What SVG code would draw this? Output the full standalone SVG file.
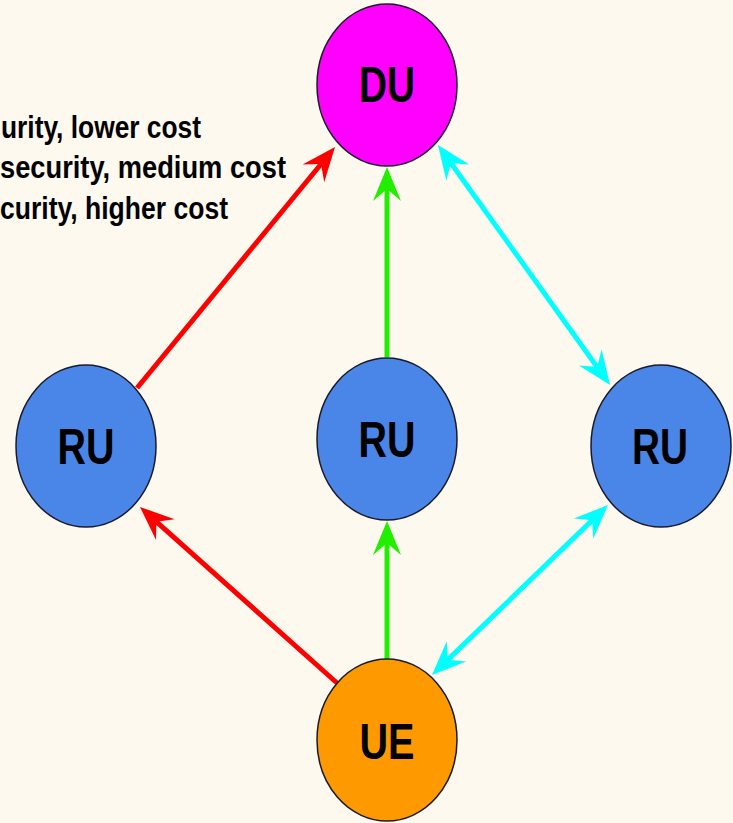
<svg xmlns="http://www.w3.org/2000/svg" width="733" height="823" viewBox="0 0 733 823">
<style>
.bg{fill:#fdf9ef}
.node{stroke:#1a1a2a;stroke-width:1.5}
.lbl{font-family:"Liberation Sans",Arial,sans-serif;font-weight:bold;font-size:50px;fill:#000;text-anchor:middle}
.leg{font-family:"Liberation Sans",Arial,sans-serif;font-weight:bold;font-size:31px;fill:#000}
.c{stroke-width:5;fill:none}
</style>
<defs>
<marker id="ar" markerUnits="userSpaceOnUse" orient="auto-start-reverse" refX="-20" refY="0" markerWidth="40" markerHeight="40" overflow="visible"><path d="M0,0 L-34,-14 L-22,0 L-34,14 Z" fill="#ff0000"/></marker>
<marker id="ag" markerUnits="userSpaceOnUse" orient="auto-start-reverse" refX="-20" refY="0" markerWidth="40" markerHeight="40" overflow="visible"><path d="M0,0 L-34,-14 L-22,0 L-34,14 Z" fill="#22ee00"/></marker>
<marker id="ac" markerUnits="userSpaceOnUse" orient="auto-start-reverse" refX="-20" refY="0" markerWidth="40" markerHeight="40" overflow="visible"><path d="M0,0 L-34,-14 L-22,0 L-34,14 Z" fill="#00ffff"/></marker>
</defs>
<rect class="bg" x="0" y="0" width="733" height="823"/>
<g id="legend">
<text class="leg" x="1" y="138" textLength="200" lengthAdjust="spacingAndGlyphs">urity, lower cost</text>
<text class="leg" x="0" y="178" textLength="286" lengthAdjust="spacingAndGlyphs">security, medium cost</text>
<text class="leg" x="0" y="219" textLength="228" lengthAdjust="spacingAndGlyphs">curity, higher cost</text>
</g>
<g id="connectors">
<line class="c" stroke="#ff0000" x1="137" y1="388" x2="322.3" y2="162.5" marker-end="url(#ar)"/>
<line class="c" stroke="#ff0000" x1="337" y1="683" x2="154.9" y2="520.3" marker-end="url(#ar)"/>
<line class="c" stroke="#22ee00" x1="387" y1="357" x2="387" y2="187" marker-end="url(#ag)"/>
<line class="c" stroke="#22ee00" x1="387" y1="659" x2="387" y2="541" marker-end="url(#ag)"/>
<line class="c" stroke="#00ffff" x1="449.6" y1="161.3" x2="598.4" y2="368.7" marker-start="url(#ac)" marker-end="url(#ac)"/>
<line class="c" stroke="#00ffff" x1="593.6" y1="518.9" x2="446.4" y2="661.1" marker-start="url(#ac)" marker-end="url(#ac)"/>
</g>
<g id="du">
<ellipse class="node" cx="387" cy="85" rx="70" ry="81" fill="#ff00ff"/>
<text class="lbl" x="387" y="102" textLength="56" lengthAdjust="spacingAndGlyphs">DU</text>
</g>
<g id="ru-left">
<ellipse class="node" cx="86" cy="446" rx="70" ry="81" fill="#4a86e8"/>
<text class="lbl" x="86" y="464" textLength="57" lengthAdjust="spacingAndGlyphs">RU</text>
</g>
<g id="ru-mid">
<ellipse class="node" cx="387" cy="439" rx="70" ry="81" fill="#4a86e8"/>
<text class="lbl" x="387" y="457" textLength="57" lengthAdjust="spacingAndGlyphs">RU</text>
</g>
<g id="ru-right">
<ellipse class="node" cx="661" cy="446" rx="70" ry="81" fill="#4a86e8"/>
<text class="lbl" x="660" y="464" textLength="56" lengthAdjust="spacingAndGlyphs">RU</text>
</g>
<g id="ue">
<ellipse class="node" cx="387" cy="740" rx="70" ry="81" fill="#ff9900"/>
<text class="lbl" x="387" y="759" textLength="55" lengthAdjust="spacingAndGlyphs">UE</text>
</g>
</svg>
